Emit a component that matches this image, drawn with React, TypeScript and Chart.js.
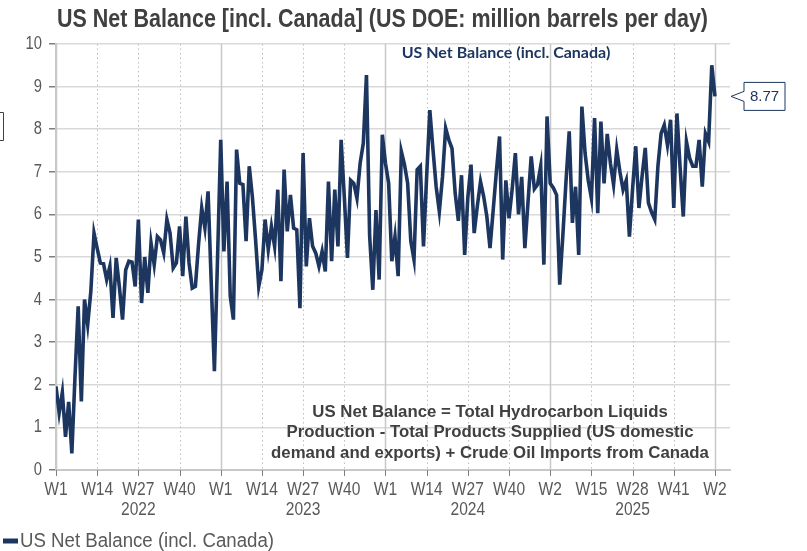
import React, { useEffect, useRef } from "react";
import { Chart, registerables } from "chart.js";

Chart.register(...registerables);

// ---- Data ----
const yearSpans = [
  { year: "2022", first: 1, last: 52 },
  { year: "2023", first: 1, last: 52 },
  { year: "2024", first: 1, last: 52 },
  { year: "2025", first: 2, last: 52 },
  { year: "2026", first: 1, last: 2 },
];

const weekLabels: string[] = [];
yearSpans.forEach((s) => {
  for (let w = s.first; w <= s.last; w++) weekLabels.push("W" + w);
});

const netBalance: number[] = [
  1.96, 1.34, 1.82, 0.78, 1.6, 0.39, 2.2, 3.84, 1.61, 4.0,
  3.41, 4.2, 5.56, 5.2, 4.86, 4.84, 4.47, 4.78, 3.57, 4.98,
  4.3, 3.53, 4.7, 4.9, 4.88, 4.31, 5.88, 3.92, 5.0, 4.16,
  5.33, 4.82, 5.48, 5.4, 5.1, 5.88, 5.56, 4.74, 4.86, 5.72,
  4.55, 5.95, 4.86, 4.27, 4.31, 5.3, 6.15, 5.68, 6.54, 4.4,
  2.32, 5.0, 7.75, 5.13, 6.77, 4.08, 3.53, 7.52, 6.73, 6.7,
  5.37, 7.13, 6.4, 5.4, 4.31, 4.7, 5.88, 5.17, 5.72, 5.25,
  6.58, 4.43, 7.05, 5.6, 6.46, 5.68, 5.64, 3.8, 7.44, 4.78,
  5.91, 5.25, 5.09, 4.78, 5.13, 4.66, 6.77, 4.9, 6.58, 5.25,
  7.75, 6.42, 4.98, 6.8, 6.73, 6.38, 7.2, 7.67, 9.27, 5.5,
  4.23, 6.1, 4.47, 7.87, 7.2, 6.73, 4.9, 5.48, 4.55, 7.48,
  7.17, 6.73, 5.37, 4.94, 7.05, 7.13, 5.25, 6.9, 8.45, 7.52,
  6.65, 6.07, 6.88, 8.02, 7.75, 7.55, 6.5, 5.85, 6.92, 5.05,
  6.4, 7.17, 5.56, 6.2, 6.77, 6.42, 5.95, 5.21, 6.1, 7.0,
  7.83, 4.94, 6.8, 5.91, 6.6, 7.44, 6.0, 6.88, 5.21, 6.3,
  7.36, 6.6, 6.7, 7.13, 4.82, 8.3, 6.73, 6.62, 6.46, 4.35,
  5.52, 6.8, 7.95, 5.8, 6.65, 5.05, 8.53, 7.44, 6.8, 6.38,
  8.26, 6.03, 8.18, 6.73, 7.89, 7.2, 6.7, 7.52, 7.0, 6.58,
  6.8, 5.48, 6.6, 7.6, 6.15, 6.9, 7.56, 6.27, 6.05, 5.88,
  7.13, 7.9, 8.1, 7.63, 8.22, 6.15, 8.37, 7.1, 5.95, 7.71,
  7.32, 7.13, 7.13, 7.75, 6.65, 7.9, 7.71, 9.5, 8.77,
];

const xTickIndexes: number[] = [0, 13, 26, 39, 52, 65, 78, 91, 104, 117, 130, 143, 156, 169, 182, 195, 208];
const yearBoundaryIndexes: number[] = [0, 52, 104, 156, 208];
const yearLabelNames: string[] = ["2022", "2023", "2024", "2025"];
const yTicks: number[] = [0, 1, 2, 3, 4, 5, 6, 7, 8, 9, 10];

const TITLE = "US Net Balance [incl. Canada] (US DOE: million barrels per day)";
const SERIES_NAME = "US Net Balance (incl. Canada)";
const NOTE_LINES = [
  "US Net Balance = Total Hydrocarbon Liquids",
  "Production - Total Products Supplied (US domestic",
  "demand and exports) + Crude Oil Imports from Canada",
];

const NAVY = "#1d3660";
const SANS = '"Liberation Sans", Arial, sans-serif';
const NARROW_X = 0.82;

function drawNarrow(ctx: any, text: string, x: number, y: number, align: string, sx: number) {
  ctx.save();
  ctx.translate(x, y);
  ctx.scale(sx, 1);
  ctx.textAlign = align;
  ctx.fillText(text, 0, 0);
  ctx.restore();
}

export default function App() {
  const ref = useRef<HTMLCanvasElement | null>(null);

  useEffect(() => {
    document.body.style.margin = "0";
    document.body.style.overflow = "hidden";
    const canvas = ref.current;
    if (!canvas) return;

    const xGridPlugin = {
      id: "xGrid",
      beforeDatasetsDraw(chart: any) {
        const { ctx, chartArea } = chart;
        const xs = chart.scales.x;
        ctx.save();
        xTickIndexes.forEach((idx) => {
          const px = Math.round(xs.getPixelForValue(idx)) + 0.5;
          const solid = yearBoundaryIndexes.includes(idx);
          ctx.beginPath();
          if (solid) {
            ctx.setLineDash([]);
            ctx.strokeStyle = "#c8c8c8";
            ctx.lineWidth = 1.5;
          } else {
            ctx.setLineDash([1.5, 3]);
            ctx.strokeStyle = "#bdbdbd";
            ctx.lineWidth = 1;
          }
          ctx.moveTo(px, chartArea.top);
          ctx.lineTo(px, chartArea.bottom);
          ctx.stroke();
          ctx.setLineDash([]);
          ctx.beginPath();
          ctx.strokeStyle = "#7f7f7f";
          ctx.lineWidth = 1;
          ctx.moveTo(px, chartArea.bottom);
          ctx.lineTo(px, chartArea.bottom + 6);
          ctx.stroke();
        });
        ctx.restore();
      },
    };

    const overlayPlugin = {
      id: "overlay",
      afterDraw(chart: any) {
        const { ctx, chartArea } = chart;
        const xs = chart.scales.x;
        const ys = chart.scales.y;
        ctx.save();
        ctx.textBaseline = "middle";

        // Title (narrow, fitted)
        ctx.fillStyle = "#404040";
        ctx.font = "bold 25px " + SANS;
        ctx.textBaseline = "alphabetic";
        const tw = ctx.measureText(TITLE).width;
        drawNarrow(ctx, TITLE, 57, 27, "left", 651 / tw);
        ctx.textBaseline = "middle";

        // Y tick labels
        ctx.fillStyle = "#595959";
        ctx.font = "18px " + SANS;
        yTicks.forEach((t) => {
          drawNarrow(ctx, String(t), 42, ys.getPixelForValue(t), "right", NARROW_X);
        });

        // X tick labels
        ctx.font = "19px " + SANS;
        xTickIndexes.forEach((idx) => {
          drawNarrow(ctx, weekLabels[idx], xs.getPixelForValue(idx), 490, "center", NARROW_X);
        });

        // Year labels
        yearLabelNames.forEach((y, i) => {
          const a = xs.getPixelForValue(yearBoundaryIndexes[i]);
          const b = xs.getPixelForValue(yearBoundaryIndexes[i + 1]);
          drawNarrow(ctx, y, (a + b) / 2, 510, "center", NARROW_X);
        });

        // Inner subtitle
        ctx.fillStyle = NAVY;
        ctx.font = "bold 16px Lato, 'Open Sans', sans-serif";
        ctx.textAlign = "center";
        ctx.fillText(SERIES_NAME, 506, 52.5);

        // Note
        ctx.fillStyle = "#404040";
        ctx.font = "bold 16.8px " + SANS;
        const noteY = [412, 432.5, 453];
        NOTE_LINES.forEach((l, i) => ctx.fillText(l, 490, noteY[i]));

        // Legend
        ctx.strokeStyle = NAVY;
        ctx.lineWidth = 5;
        ctx.beginPath();
        ctx.moveTo(3, 541);
        ctx.lineTo(18, 541);
        ctx.stroke();
        ctx.fillStyle = "#595959";
        ctx.font = "20px " + SANS;
        const lw = ctx.measureText(SERIES_NAME).width;
        drawNarrow(ctx, SERIES_NAME, 20, 541, "left", 254 / lw);

        // Callout for last value
        const lastIdx = netBalance.length - 1;
        const lastVal = netBalance[lastIdx];
        const yv = ys.getPixelForValue(lastVal);
        const tipX = chartArea.right + 1;
        const bl = tipX + 13;
        const br = bl + 41;
        const bt = yv - 14;
        const bb = yv + 14;
        ctx.beginPath();
        ctx.moveTo(bl, bt);
        ctx.lineTo(br, bt);
        ctx.lineTo(br, bb);
        ctx.lineTo(bl, bb);
        ctx.lineTo(bl, yv + 5);
        ctx.lineTo(tipX, yv);
        ctx.lineTo(bl, yv - 5);
        ctx.closePath();
        ctx.fillStyle = "#ffffff";
        ctx.fill();
        ctx.strokeStyle = NAVY;
        ctx.lineWidth = 1;
        ctx.stroke();
        ctx.fillStyle = NAVY;
        ctx.font = "15px " + SANS;
        ctx.textAlign = "center";
        ctx.fillText(lastVal.toFixed(2), (bl + br) / 2, yv + 0.5);

        // small bracket at left edge
        ctx.strokeStyle = "#404040";
        ctx.lineWidth = 1;
        ctx.beginPath();
        ctx.moveTo(0, 112.5);
        ctx.lineTo(3.5, 112.5);
        ctx.lineTo(3.5, 140.5);
        ctx.lineTo(0, 140.5);
        ctx.stroke();

        ctx.restore();
      },
    };

    const chart = new Chart(canvas, {
      type: "line",
      data: {
        datasets: [
          {
            label: SERIES_NAME,
            data: netBalance.map((v, i) => ({ x: i, y: v })),
            borderColor: NAVY,
            backgroundColor: NAVY,
            borderWidth: 3.6,
            pointRadius: 0,
            tension: 0,
          },
        ],
      },
      options: {
        responsive: false,
        animation: false,
        layout: { padding: { top: 44, right: 77, left: 0, bottom: 0 } },
        plugins: {
          legend: { display: false },
          title: { display: false },
          tooltip: { enabled: false },
        },
        scales: {
          x: {
            type: "linear",
            min: 0,
            max: 212.75,
            afterBuildTicks: (scale: any) => {
              scale.ticks = xTickIndexes.map((v) => ({ value: v }));
            },
            afterFit: (scale: any) => {
              scale.height = 81;
            },
            grid: { display: false },
            border: { display: true, color: "#c8c8c8", width: 2 },
            ticks: { display: false },
          },
          y: {
            min: 0,
            max: 10,
            afterBuildTicks: (scale: any) => {
              scale.ticks = yTicks.map((v) => ({ value: v }));
            },
            afterFit: (scale: any) => {
              scale.width = 56;
            },
            grid: {
              color: "#d9d9d9",
              lineWidth: 1.5,
              drawTicks: true,
              tickLength: 7,
              tickColor: "#7f7f7f",
            },
            border: { display: true, color: "#c8c8c8", width: 2 },
            ticks: { display: false },
          },
        },
      },
      plugins: [xGridPlugin, overlayPlugin],
    });

    return () => chart.destroy();
  }, []);

  return (
    <div style={{ width: 807, height: 551, position: "relative" }}>
      <canvas ref={ref} width={807} height={551} style={{ display: "block" }} />
    </div>
  );
}
